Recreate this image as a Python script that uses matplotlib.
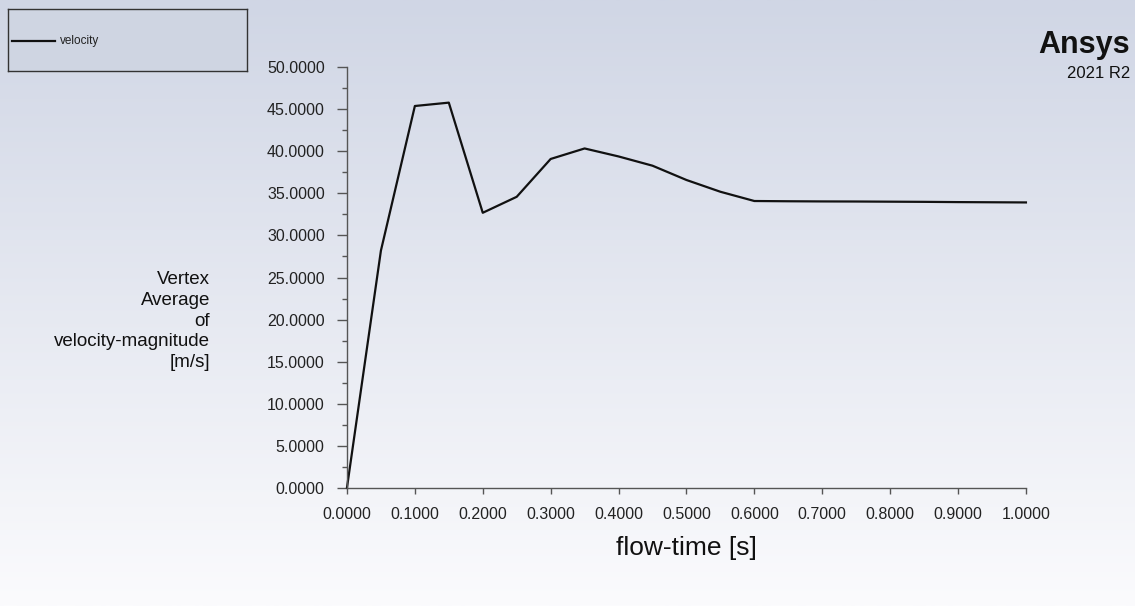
import matplotlib
matplotlib.use("Agg")
import matplotlib.pyplot as plt
import numpy as np
from matplotlib.ticker import MultipleLocator, FormatStrFormatter

# flow-time [s] and vertex-average velocity magnitude [m/s]
flow_time = [0.0, 0.05, 0.10, 0.15, 0.20, 0.25, 0.30, 0.35, 0.40, 0.45, 0.50,
             0.55, 0.60, 0.65, 0.70, 0.75, 0.80, 0.85, 0.90, 0.95, 1.00]
velocity = [0.0, 28.2, 45.4, 45.8, 32.7, 34.6, 39.1, 40.35, 39.4, 38.3, 36.6,
            35.2, 34.1, 34.07, 34.05, 34.04, 34.02, 34.0, 33.97, 33.95, 33.93]
series_name = "velocity"
x_label = "flow-time [s]"
y_label = "Vertex\nAverage\nof\nvelocity-magnitude\n[m/s]"

plt.rcParams['font.family'] = ['Liberation Sans', 'DejaVu Sans']

fig = plt.figure(figsize=(11.35, 6.06), dpi=100)

# vertical gradient background
bg = fig.add_axes([0, 0, 1, 1], zorder=-10)
top = np.array([208, 214, 229]) / 255
bottom = np.array([251, 251, 253]) / 255
t = np.linspace(0, 1, 256)[:, None]
grad = top * (1 - t) + bottom * t
bg.imshow(grad[:, None, :], aspect='auto', extent=[0, 1, 0, 1])
bg.set_axis_off()

ax = fig.add_axes([0.3057, 0.1952, 0.5982, 0.6937])
ax.patch.set_alpha(0)
ax.plot(flow_time, velocity, color='#111111', linewidth=1.6, clip_on=False)
ax.set_xlim(0, 1)
ax.set_ylim(0, 50)

for s in ['top', 'right']:
    ax.spines[s].set_visible(False)
for s in ['left', 'bottom']:
    ax.spines[s].set_color('#555555')
    ax.spines[s].set_linewidth(1.0)

ax.xaxis.set_major_locator(MultipleLocator(0.1))
ax.yaxis.set_major_locator(MultipleLocator(5))
ax.yaxis.set_minor_locator(MultipleLocator(2.5))
ax.xaxis.set_major_formatter(FormatStrFormatter('%.4f'))
ax.yaxis.set_major_formatter(FormatStrFormatter('%.4f'))
ax.tick_params(axis='y', which='major', length=7, width=1, color='#555555',
               labelsize=11.5, labelcolor='#222222', pad=9)
ax.tick_params(axis='y', which='minor', length=3.5, width=1, color='#555555')
ax.tick_params(axis='x', which='major', length=4, width=1, color='#555555',
               labelsize=11.5, labelcolor='#222222', pad=10)

ax.set_xlabel(x_label, fontsize=19, color='#111111', labelpad=10)
fig.text(210 / 1135, 1 - 321 / 606, y_label, ha='right', va='center',
         multialignment='right', fontsize=13.5, color='#111111', linespacing=1.3)

# legend box in the top-left corner
leg = fig.add_axes([8 / 1135, 1 - 71 / 606, 239 / 1135, 62 / 606])
leg.set_facecolor('#cfd5e2')
leg.set_xticks([])
leg.set_yticks([])
for s in leg.spines.values():
    s.set_color('#333333')
    s.set_linewidth(1.0)
leg.set_xlim(0, 239)
leg.set_ylim(0, 62)
leg.plot([4, 47], [30, 30], color='#111111', linewidth=1.6)
leg.text(52, 30, series_name, fontsize=8.5, va='center', color='#222222')

fig.text(1130 / 1135, 1 - 45 / 606, "Ansys", ha='right', va='center',
         fontsize=22, fontweight='bold', color='#111111')
fig.text(1130 / 1135, 1 - 73 / 606, "2021 R2", ha='right', va='center',
         fontsize=12, color='#111111')

fig.savefig('out.png', dpi=100)
